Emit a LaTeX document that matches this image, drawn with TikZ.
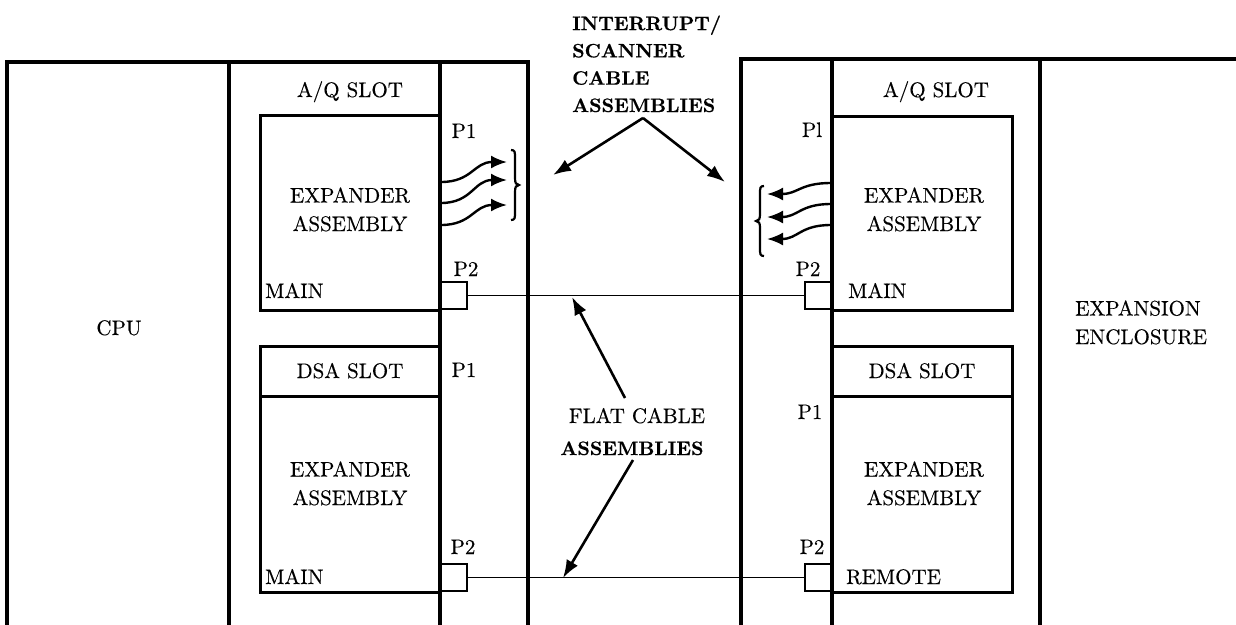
\documentclass[tikz,border=0pt]{standalone}
\usepackage{fontspec}
\setmainfont{lmroman10-regular.otf}[BoldFont=lmroman10-bold.otf, FakeBold=0.4]
\usetikzlibrary{arrows.meta}
\tikzset{
  frame/.style={line width=3.2pt, line cap=rect},
  board/.style={line width=3pt},
  cable/.style={line width=1.8pt},
  lbl/.style={font=\fontsize{21}{28.5}\selectfont\addfontfeature{FakeBold=0.35}, inner sep=0pt, anchor=base, align=center},
  blbl/.style={font=\fontsize{19.5}{27.3}\selectfont\bfseries, inner sep=0pt, anchor=base},
  pointer/.style={line width=2.6pt, -{Latex[length=18pt,width=13pt]}},
  wave/.style={line width=2.4pt, -{Latex[length=16pt,width=13pt]}},
  bracepath/.style={line width=2.2pt},
  conn/.style={draw, line width=2pt, minimum width=26pt, minimum height=27pt, inner sep=0pt},
}
\begin{document}
\begin{tikzpicture}[x=1pt,y=-1pt]
\useasboundingbox (0,0) rectangle (1236,624);
% outer frames
\draw[frame] (7,624) -- (7,62) -- (528,62) -- (528,624);
\draw[frame] (229,62) -- (229,624);
\draw[frame] (440,62) -- (440,624);
\draw[frame] (1236,59) -- (741,59) -- (741,624);
\draw[frame] (832,59) -- (832,624);
\draw[frame] (1040,59) -- (1040,624);
% boards
\draw[board] (260,115) rectangle (440,310);
\draw[board] (260,346) rectangle (440,592);
\draw[board] (260,396) -- (440,396);
\draw[board] (832,116) rectangle (1012,310);
\draw[board] (832,346) rectangle (1012,592);
\draw[board] (832,396) -- (1012,396);
% connectors P2
\node[conn, anchor=south west] (pLu) at (440,310) {};
\node[conn, anchor=south east] (pRu) at (832,310) {};
\node[conn, anchor=south west] (pLl) at (440,592) {};
\node[conn, anchor=south east] (pRl) at (832,592) {};
\draw[cable] (pLu.east) -- (pRu.west);
\draw[cable] (pLl.east) -- (pRl.west);
% labels
\node[lbl] (aqL) at (350,97) {A/Q SLOT};
\node[lbl] (aqR) at (936,97) {A/Q SLOT};
\node[lbl] (p1Lu) at (464,138) {P1};
\node[lbl] (p1Ru) at (812,137) {Pl};
\node[lbl] (exLu) at (350,231) {EXPANDER\\ASSEMBLY};
\node[lbl] (exRu) at (924,231) {EXPANDER\\ASSEMBLY};
\node[lbl] (p2Lu) at (466,276) {P2};
\node[lbl] (p2Ru) at (808,276) {P2};
\node[lbl, anchor=base west] (mnLu) at (265,298) {MAIN};
\node[lbl, anchor=base west] (mnRu) at (848,298) {MAIN};
\node[lbl] (cpu) at (119,335) {CPU};
\node[lbl, anchor=base west, align=left] (encl) at (1075,344) {EXPANSION\\ENCLOSURE};
\node[lbl] (dsaL) at (350,378) {DSA SLOT};
\node[lbl] (dsaR) at (922,378) {DSA SLOT};
\node[lbl] (p1Ll) at (464,377) {P1};
\node[lbl] (p1Rl) at (810,419) {P1};
\node[lbl] (exLl) at (350,505) {EXPANDER\\ASSEMBLY};
\node[lbl] (exRl) at (924,505) {EXPANDER\\ASSEMBLY};
\node[lbl] (p2Ll) at (463,554) {P2};
\node[lbl] (p2Rl) at (812,554) {P2};
\node[lbl, anchor=base west] (mnLl) at (265,584) {MAIN};
\node[lbl, anchor=base west] (rmRl) at (846,584) {REMOTE};
\node[lbl] (flat) at (637,423) {FLAT CABLE};
\node[blbl] (fasm) at (632,455) {ASSEMBLIES};
\node[blbl, anchor=base west, align=left] (isc) at (572,112) {INTERRUPT/\\SCANNER\\CABLE\\ASSEMBLIES};
% pointer arrows
\coordinate (apex) at (643,118);
\coordinate (iL) at (553,175);
\coordinate (iR) at (725,182);
\draw[pointer] (apex) -- (iL);
\draw[pointer] (apex) -- (iR);
\coordinate (fu0) at (625,398);
\coordinate (fu1) at (572,297);
\coordinate (fl0) at (633,460);
\coordinate (fl1) at (563,578);
\draw[pointer] (fu0) -- (fu1);
\draw[pointer] (fl0) -- (fl1);
% wavy interrupt cables, left
\draw[wave] (441,182) .. controls (472,182) and (474,162) .. (507,162);
\draw[wave] (441,203) .. controls (472,203) and (474,180) .. (507,180);
\draw[wave] (441,225) .. controls (472,225) and (474,205) .. (507,205);
\draw[bracepath] (511,150) .. controls (515,150) and (515,152) .. (515,158) -- (515,178) .. controls (515,183) and (516,185) .. (519,185) .. controls (516,185) and (515,187) .. (515,192) -- (515,212) .. controls (515,218) and (515,220) .. (511,220);
% wavy interrupt cables, right
\draw[wave] (831,183) .. controls (800,183) and (798,194) .. (767,194);
\draw[wave] (831,204) .. controls (800,204) and (798,217) .. (767,217);
\draw[wave] (831,225) .. controls (800,225) and (798,239) .. (767,239);
\draw[bracepath] (764,186) .. controls (760,186) and (760,188) .. (760,194) -- (760,214) .. controls (760,219) and (759,221) .. (756,221) .. controls (759,221) and (760,223) .. (760,228) -- (760,248) .. controls (760,254) and (760,256) .. (764,256);
\end{tikzpicture}
\end{document}
